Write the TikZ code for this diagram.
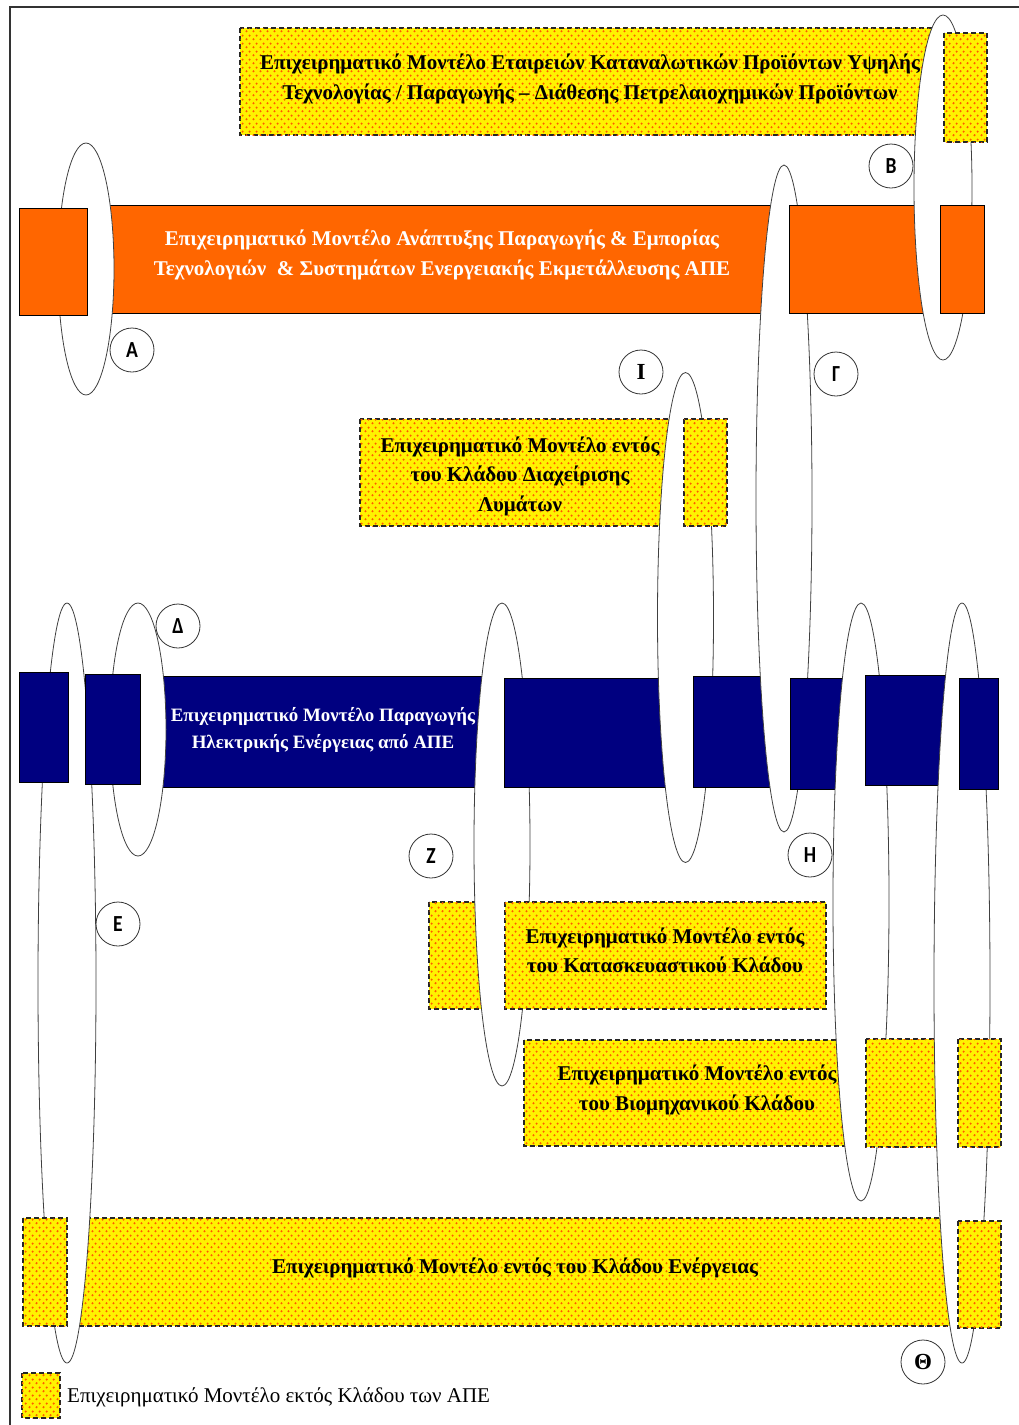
\documentclass[tikz,border=0pt]{standalone}
\usepackage{fontspec}
\setmainfont{Liberation Serif}
\newfontfamily\tagfont{Carlito}[FakeStretch=0.85]
\newfontfamily\tagserif{Liberation Serif}
\usetikzlibrary{patterns}
\usepackage{xcolor}
\definecolor{apeorange}{RGB}{255,102,0}
\definecolor{apeblue}{RGB}{0,0,128}
\definecolor{dotcolor}{RGB}{255,90,0}
\pgfdeclarepatternformonly{yeldots}{\pgfpointorigin}{\pgfpoint{7pt}{8pt}}{\pgfpoint{7pt}{8pt}}{%
  \pgfpathcircle{\pgfpoint{1.75pt}{2pt}}{1.3pt}%
  \pgfpathcircle{\pgfpoint{5.25pt}{6pt}}{1.3pt}%
  \pgfusepath{fill}}

\begin{document}
\begin{tikzpicture}[x=1pt, y=-1pt, orbar/.style={fill=apeorange, draw=black, line width=0.8pt},
    blbar/.style={fill=apeblue, draw=black, line width=0.8pt},
    ylbox/.style={fill=yellow, draw=black!85, line width=1.1pt, dash pattern=on 5pt off 3pt, postaction={pattern=yeldots, pattern color=dotcolor}},
    link/.style={fill=white, draw=black!75, line width=0.8pt},
    tag/.style={circle, draw=black!80, fill=white, line width=0.8pt, minimum size=44pt, inner sep=0pt, font=\tagfont\bfseries\fontsize{23}{23}\selectfont}]
    \tikzstyle{boxtxt} = [align=center, inner sep=0pt, font=\bfseries\fontsize{21}{29.5}\selectfont]

    \useasboundingbox (0,0) rectangle (1019,1425);
    \draw[line width=1.5pt, black!80] (10,1425) -- (10,7) -- (1019,7);

    % bars and boxes lying under the links
    \draw[ylbox] (240,28) rectangle (935,135);
    \draw[orbar] (95,205) rectangle (790,313);
    \draw[blbar] (150,676) rectangle (490,787);
    \draw[ylbox] (360,419) rectangle (675,526);
    \draw[ylbox] (429,902) rectangle (490,1009);
    \draw[ylbox] (524,1040) rectangle (850,1146);
    \draw[ylbox] (75,1218) rectangle (955,1326);

    \draw[link] (86,269) ellipse (28 and 126);
    \draw[link] (67,983) ellipse (29 and 380);
    \draw[link] (138,729.5) ellipse (28 and 126.5);
    \draw[link] (502,844.5) ellipse (28 and 241.5);

    \draw[orbar] (19,208) rectangle (87,315);
    \draw[blbar] (19,672) rectangle (68,782);
    \draw[blbar] (85,674) rectangle (140,784);
    \draw[ylbox] (23,1218) rectangle (67,1326);
    \draw[blbar] (504,678) rectangle (670,787);
    \draw[ylbox] (505,902) rectangle (826,1009);

    \draw[link] (685.5,617.5) ellipse (28 and 245);

    \draw[ylbox] (684,419) rectangle (727,526);
    \draw[blbar] (693,676) rectangle (775,787);

    \draw[link] (784,498.5) ellipse (28 and 333.5);

    \draw[orbar] (789,205) rectangle (930,313);
    \draw[blbar] (790,678) rectangle (848,789);

    \draw[link] (943,187.5) ellipse (29 and 172.5);
    \draw[link] (861,902) ellipse (28 and 299);

    \draw[orbar] (940,205) rectangle (984,313);
    \draw[ylbox] (944,33) rectangle (987,142);
    \draw[blbar] (865,675) rectangle (948,785);
    \draw[ylbox] (866,1039) rectangle (940,1147);

    \draw[link] (962,983) ellipse (28 and 380);

    \draw[blbar] (959,678) rectangle (998,789);
    \draw[ylbox] (958,1039) rectangle (1001,1147);
    \draw[ylbox] (958,1221) rectangle (1001,1328);

    % texts
    \node[boxtxt] (petro) at (590,79) {Επιχειρηματικό Μοντέλο Εταιρειών Καταναλωτικών Προϊόντων Υψηλής\\Τεχνολογίας / Παραγωγής – Διάθεσης Πετρελαιοχημικών Προϊόντων};
    \node[boxtxt, text=white] (techn) at (442,255) {Επιχειρηματικό Μοντέλο Ανάπτυξης Παραγωγής \& Εμπορίας\\Τεχνολογιών \ \& Συστημάτων Ενεργειακής Εκμετάλλευσης ΑΠΕ};
    \node[boxtxt] (waste) at (520,476) {Επιχειρηματικό Μοντέλο εντός\\του Κλάδου Διαχείρισης\\Λυμάτων};
    \node[boxtxt, text=white, font=\bfseries\fontsize{18.9}{27}\selectfont] (power) at (323,729.5) {Επιχειρηματικό Μοντέλο Παραγωγής\\Ηλεκτρικής Ενέργειας από ΑΠΕ};
    \node[boxtxt] (constr) at (665,950.5) {Επιχειρηματικό Μοντέλο εντός\\του Κατασκευαστικού Κλάδου};
    \node[boxtxt] (indus) at (697,1090) {Επιχειρηματικό Μοντέλο εντός\\του Βιομηχανικού Κλάδου};
    \node[boxtxt] (energy) at (515,1268) {Επιχειρηματικό Μοντέλο εντός του Κλάδου Ενέργειας};

    % legend
    \draw[ylbox] (22,1373) rectangle (60,1418);
    \node[anchor=west, inner sep=0pt, font=\fontsize{21}{21}\selectfont] (legend) at (67,1397) {Επιχειρηματικό Μοντέλο εκτός Κλάδου των ΑΠΕ};

    % link tags
    \node[tag] (tagA) at (132,350) {A};
    \node[tag] (tagB) at (891,166) {B};
    \node[tag] (tagG) at (836,374) {Γ};
    \node[tag, font=\tagserif\bfseries\fontsize{23}{23}\selectfont] (tagI) at (641,372) {I};
    \node[tag] (tagD) at (178,626) {Δ};
    \node[tag] (tagZ) at (431,856) {Z};
    \node[tag] (tagH) at (810,855) {H};
    \node[tag] (tagE) at (118,924) {E};
    \node[tag, font=\tagserif\bfseries\fontsize{23}{23}\selectfont] (tagT) at (923,1362) {Θ};
\end{tikzpicture}
\end{document}
